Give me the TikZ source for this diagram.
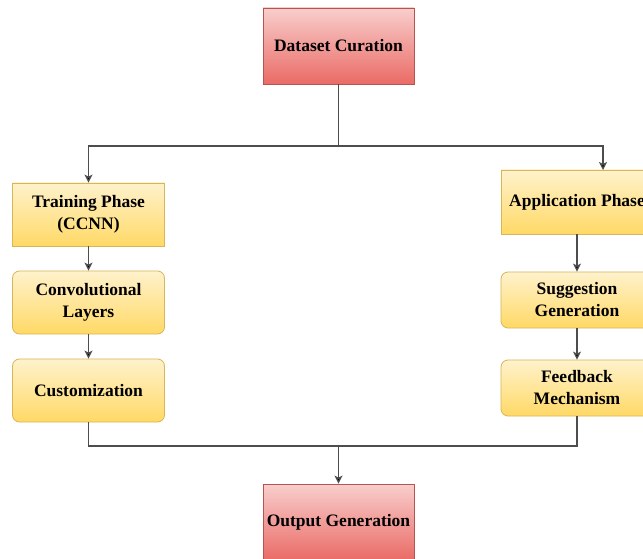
\documentclass[tikz,border=0pt]{standalone}
\usepackage{fontspec}
\setmainfont{Liberation Serif}
\usetikzlibrary{arrows.meta}
\definecolor{redtop}{HTML}{F8CECC}
\definecolor{redbot}{HTML}{EA6B66}
\definecolor{redline}{HTML}{B85450}
\definecolor{yeltop}{HTML}{FFF2CC}
\definecolor{yelbot}{HTML}{FFD966}
\definecolor{yelline}{HTML}{D6B656}
\definecolor{wire}{HTML}{4D4D4D}

\begin{document}
\begin{tikzpicture}[x=1pt,y=-1pt,
    redbox/.style={draw=redline,line width=0.8pt,top color=redtop,bottom color=redbot,
      minimum width=151pt,minimum height=76pt,align=center,font=\fontsize{17.5}{22}\selectfont\bfseries},
    yelbox/.style={draw=yelline,line width=0.8pt,top color=yeltop,bottom color=yelbot,
      minimum width=152pt,minimum height=63pt,align=center,font=\fontsize{17.5}{22}\selectfont\bfseries},
    roundbox/.style={yelbox,rounded corners=7pt},
    wireline/.style={draw=wire,line width=1.2pt},
    arr/.style={wireline,-{Stealth[length=8pt,width=8pt,inset=2pt,fill=black]}}]
  \useasboundingbox (0,0) rectangle (643,559);
  \clip (0,0) rectangle (643,559);
  \fill[white] (0,0) rectangle (643,559);

  \node[redbox] (cur) at (338.5,46) {Dataset Curation};
  \node[redbox] (out) at (338.5,522) {Output Generation};

  % left branch
  \node[yelbox] (train) at (88.5,214.5) {Training Phase\\(CCNN)};
  \node[roundbox] (conv) at (88.5,302.5) {Convolutional\\Layers};
  \node[roundbox] (cust) at (88.5,390.5) {Customization};

  % right branch
  \node[yelbox,minimum height=64pt] (app) at (577,202) {Application Phase};
  \node[roundbox,minimum height=56pt] (sugg) at (577,300) {Suggestion\\Generation};
  \node[roundbox,minimum height=56pt] (feed) at (577,388) {Feedback\\Mechanism};

  \coordinate (split) at (338.5,146);
  \coordinate (appin) at (603,170);
  \coordinate (join) at (338.5,446);

  \draw[wireline] (cur.south) -- (split);
  \draw[arr] (split) -| (train.north);
  \draw[arr] (split) -| (appin);
  \draw[arr] (train) -- (conv);
  \draw[arr] (conv) -- (cust);
  \draw[arr] (app) -- (sugg);
  \draw[arr] (sugg) -- (feed);
  \draw[wireline] (cust.south) |- (join);
  \draw[wireline] (feed.south) |- (join);
  \draw[arr] (join) -- (out.north);
\end{tikzpicture}
\end{document}
